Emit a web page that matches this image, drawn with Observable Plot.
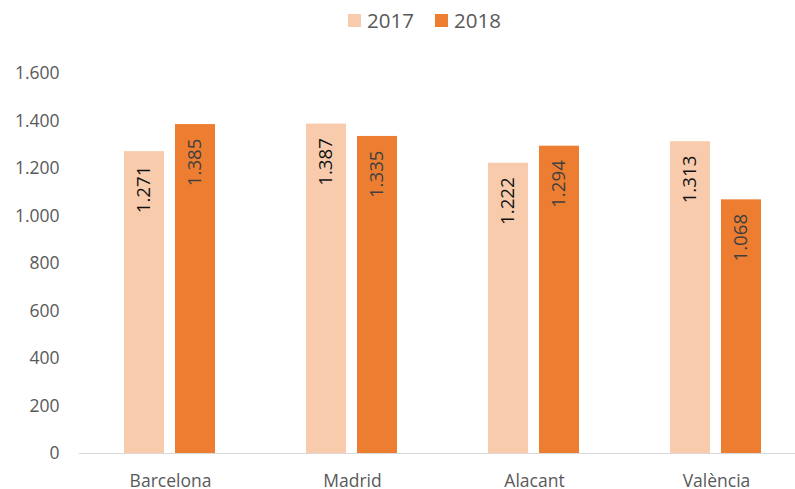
<!DOCTYPE html>
<html><head><meta charset="utf-8">
<script src="https://cdn.jsdelivr.net/npm/d3@7"></script>
<script src="https://cdn.jsdelivr.net/npm/@observablehq/plot@0.6"></script>
<style>
body{margin:0;background:#fff;font-family:"Open Sans",sans-serif;overflow:hidden;}
#legend{position:relative;height:40px;width:795px;}
.item{position:absolute;top:6px;display:flex;align-items:center;font-size:20.5px;color:#595959;}
.sw{width:13px;height:13px;margin-right:6px;}
</style></head><body>
<div id="legend"></div>
<div id="chart"></div>
<script>
const cities = ["Barcelona", "Madrid", "Alacant", "València"];
const years = ["2017", "2018"];
const values2017 = [1271, 1387, 1222, 1313];
const values2018 = [1385, 1335, 1294, 1068];
const yTicks = [0, 200, 400, 600, 800, 1000, 1200, 1400, 1600];
const colors = ["#F8CBAD", "#ED7D31"];

const data = cities.flatMap((c, i) => [
  {city: c, year: years[0], value: values2017[i]},
  {city: c, year: years[1], value: values2018[i]}
]);
const fmt = d3.formatLocale({decimal: ",", thousands: ".", grouping: [3], currency: ["", ""]}).format(",d");

// legend
const legend = document.getElementById("legend");
const legendLeft = [348, 435];
years.forEach((y, i) => {
  const it = document.createElement("div");
  it.className = "item";
  it.style.left = legendLeft[i] + "px";
  it.innerHTML = `<span class="sw" style="background:${colors[i]}"></span><span>${y}</span>`;
  legend.appendChild(it);
});

const chart = Plot.plot({
  width: 795,
  height: 449,
  marginLeft: 77,
  marginRight: -13,
  marginTop: 33,
  marginBottom: 36,
  style: {fontFamily: "Open Sans", background: "white", overflow: "hidden"},
  fx: {domain: cities, padding: 0, label: null},
  x: {domain: years, paddingInner: 0.21, paddingOuter: 0.86, axis: null},
  y: {domain: [0, 1600], label: null},
  color: {domain: years, range: colors},
  marks: [
    Plot.axisY({ticks: yTicks, tickFormat: fmt, tickSize: 0, tickPadding: 20, fontSize: 17.5, color: "#595959", label: null}),
    Plot.axisFx({anchor: "bottom", tickSize: 0, tickPadding: 21, fontSize: 17.5, color: "#595959", label: null}),
    Plot.barY(data, {fx: "city", x: "year", y: "value", fill: "year"}),
    Plot.ruleY([0], {stroke: "#d9d9d9", strokeWidth: 1.2}),
    Plot.text(data.filter(d => d.year === years[0]), {fx: "city", x: "year", y: "value", text: d => fmt(d.value), rotate: -90, textAnchor: "end", dy: 14, fontSize: 18.7, fill: "#111"}),
    Plot.text(data.filter(d => d.year === years[1]), {fx: "city", x: "year", y: "value", text: d => fmt(d.value), rotate: -90, textAnchor: "end", dy: 14, fontSize: 18.7, fill: "#404040"})
  ]
});
document.getElementById("chart").appendChild(chart);
</script>
</body></html>
